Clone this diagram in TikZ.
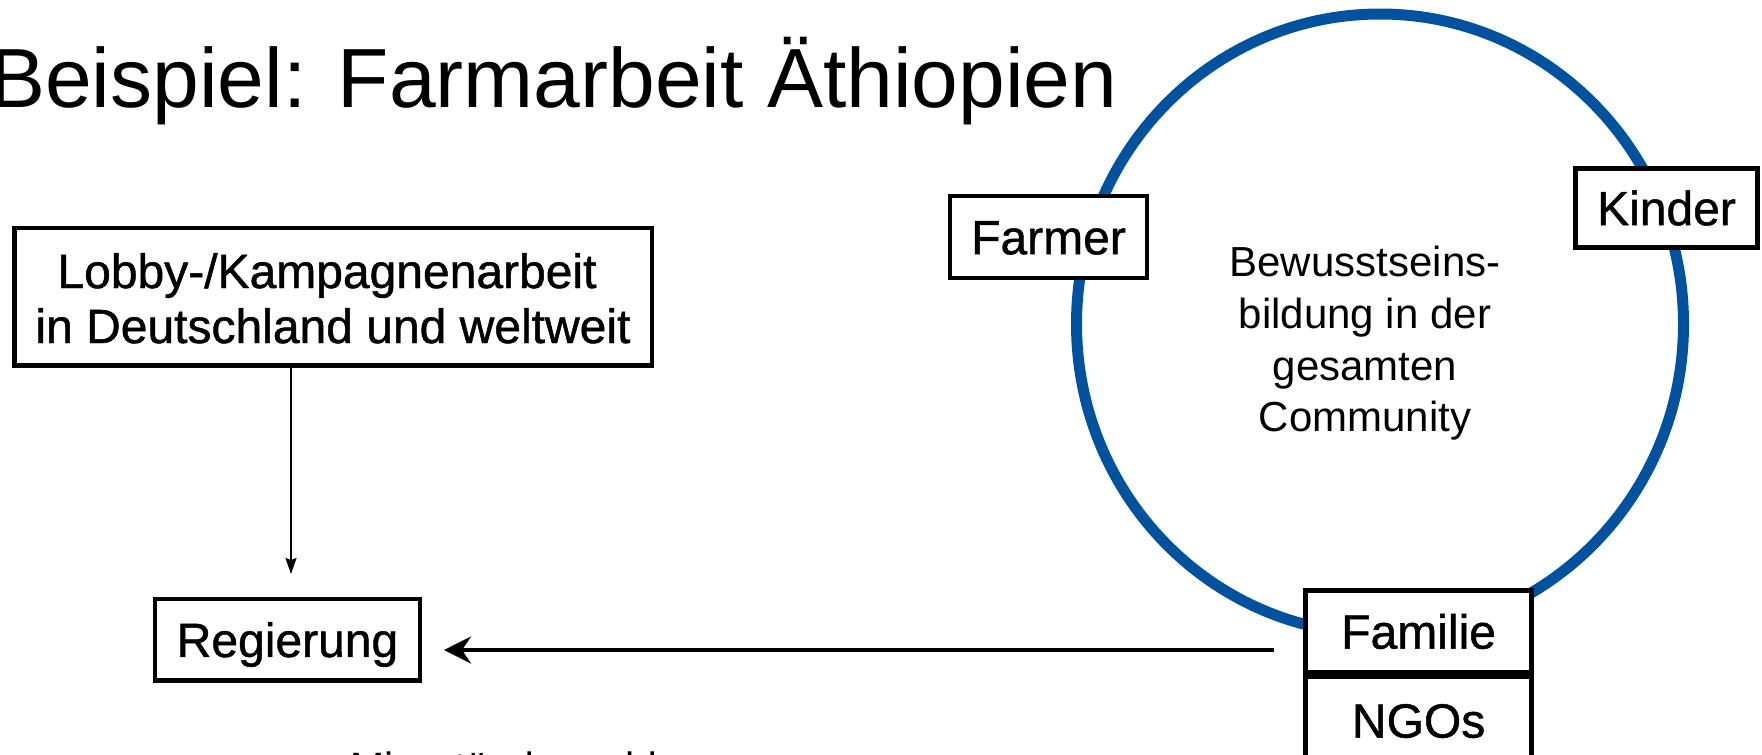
\documentclass[tikz,border=0pt]{standalone}
\usepackage{fontspec}
\setmainfont{Liberation Sans}
\newfontfamily\boxfont[FakeBold=1.0]{Liberation Sans}
\usetikzlibrary{arrows.meta}
\definecolor{ringblue}{RGB}{0,82,159}
\begin{document}
\begin{tikzpicture}[x=1pt,y=-1pt,
  box/.style={draw=black, line width=4.5pt, fill=white, inner sep=0pt,
    text height=34.4pt, text depth=0pt, font=\boxfont\fontsize{48}{55}\selectfont},
  lbl/.style={inner sep=0pt, anchor=base},
  boxtxt/.style={lbl, font=\boxfont\fontsize{48}{55}\selectfont},
  ringtxt/.style={lbl, font=\fontsize{42}{51}\selectfont},
  thinarrow/.style={line width=1.5pt, -{Stealth[length=16pt,width=11pt,inset=2pt]}},
  thickarrow/.style={line width=4pt, -{Stealth[length=27pt,width=27pt,inset=9pt]}}]
\useasboundingbox (0,0) rectangle (1762,755);
\clip (0,0) rectangle (1762,755);

% title
\node[lbl, anchor=base west, font=\fontsize{84}{100}\selectfont] (title) at (-11,107) {Beispiel: Farmarbeit Äthiopien};

% ring
\draw[ringblue, line width=11pt] (1380,324) ellipse [x radius=303.5pt, y radius=310pt];

% ring text
\node[ringtxt] (bw1) at (1365,276.7) {Bewusstseins-};
\node[ringtxt] (bw2) at (1365,328.3) {bildung in der};
\node[ringtxt] (bw3) at (1365,380) {gesamten};
\node[ringtxt] (bw4) at (1365,431.7) {Community};

% boxes on the ring
\node[box, minimum width=197pt, minimum height=82pt] (farmer) at (1048.5,237) {Farmer};
\node[box, minimum width=182pt, minimum height=79pt] (kinder) at (1666.5,208) {Kinder};
\node[box, minimum width=226pt, minimum height=82pt] (familie) at (1418.6,631.4) {Familie};
\node[box, minimum width=226pt, minimum height=87pt, anchor=north] (ngos) at (familie.south) {NGOs};

% left side
\node[box, minimum width=637.5pt, minimum height=137.5pt] (lobby) at (333.25,296.75) {};
\node[boxtxt] (lob1) at (327,288) {Lobby-/Kampagnenarbeit};
\node[boxtxt] (lob2) at (333,343) {in Deutschland und weltweit};
\node[box, minimum width=265pt, minimum height=81.5pt] (reg) at (287.5,639.75) {Regierung};

% connectors
\coordinate (vtip) at (291,574);
\draw[thinarrow] (lobby.south -| vtip) -- (vtip);
\coordinate (hstart) at (1274,650);
\coordinate (htip) at (444,650);
\draw[thickarrow] (hstart) -- (htip);

% bottom text (cut off by the page edge)
\node[lbl, anchor=base west, font=\fontsize{41}{49}\selectfont] (bottom) at (350,781) {Missstände melden};
\end{tikzpicture}
\end{document}
